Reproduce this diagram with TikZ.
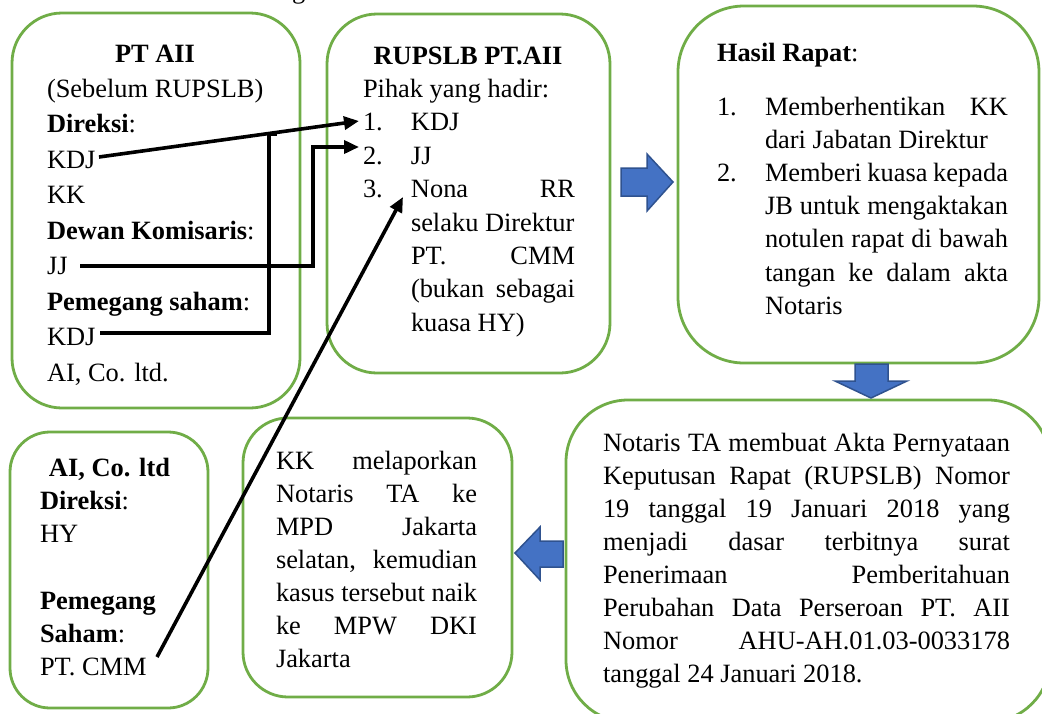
\documentclass[tikz,border=0pt]{standalone}
\usepackage{fontspec}
\setmainfont{Liberation Serif}
\usetikzlibrary{arrows.meta}
\definecolor{boxgreen}{HTML}{70AD47}
\definecolor{arrblue}{HTML}{4472C4}
\definecolor{arrdark}{HTML}{2F528F}
\newcommand{\fl}{\rule{0pt}{20pt}}
\newcommand{\jl}[2]{\makebox[#1][s]{#2}}
\newcommand{\ind}{\hspace*{48pt}}
\newcommand{\num}[1]{\makebox[48pt][l]{#1}}
\tikzset{
  box/.style={draw=boxgreen, line width=2.8pt, fill=white, inner sep=0pt, rectangle},
  txt/.style={inner sep=0pt, outer sep=0pt, align=left, anchor=north west,
    font=\fontsize{26.4}{33.3}\selectfont},
  txtwide/.style={txt, font=\fontsize{26.4}{35.45}\selectfont},
  conn/.style={line width=3.6pt, black, line join=miter},
  tipped/.style={-{Triangle[length=15pt,width=13pt]}},
  blockarrow/.style={fill=arrblue, draw=arrdark, line width=1.5pt, line join=miter},
}
\begin{document}
\begin{tikzpicture}[x=1pt,y=-1pt]
\useasboundingbox (0,0) rectangle (1042,713);
\clip (0,0) rectangle (1042,713);
\fill[white] (0,0) rectangle (1042,713);

% caption fragment
\node[txt, anchor=base west] (capg) at (292,-2) {g};

% boxes
\node[box, rounded corners=50pt, minimum width=288pt, minimum height=395pt] (b1) at (156,210.5) {};
\node[box, rounded corners=50pt, minimum width=283pt, minimum height=359pt] (b2) at (468.5,193.5) {};
\node[box, rounded corners=66pt, minimum width=361pt, minimum height=357pt] (b3) at (858.5,184.5) {};
\node[box, rounded corners=62pt, minimum width=484pt, minimum height=322pt] (b4) at (808,561) {};
\node[box, rounded corners=45pt, minimum width=269pt, minimum height=279pt] (b5) at (377.5,557.5) {};
\node[box, rounded corners=40pt, minimum width=198pt, minimum height=276pt] (b6) at (109,570) {};

% texts
\node[txtwide] (t1) at (47,42) {\fl\makebox[216pt][c]{\textbf{PT AII}}\\
(Sebelum RUPSLB)\\
\textbf{Direksi}:\\
KDJ\\
KK\\
\textbf{Dewan Komisaris}:\\
JJ\\
\textbf{Pemegang saham}:\\
KDJ\\
AI, Co. ltd.};

\node[txt, font=\fontsize{26.4}{33.4}\selectfont] (t2) at (363,44) {\fl\makebox[210pt][c]{\textbf{RUPSLB PT.AII}}\\
Pihak yang hadir:\\
\num{1.}KDJ\\
\num{2.}JJ\\
\num{3.}\jl{164pt}{Nona RR}\\
\ind selaku Direktur\\
\ind\jl{164pt}{PT. CMM}\\
\ind\jl{164pt}{(bukan sebagai}\\
\ind kuasa HY)};

\node[txt, font=\fontsize{26.4}{33.2}\selectfont] (t3) at (717,41) {\fl\textbf{Hasil Rapat}:\\[20.8pt]
\num{1.}\jl{243pt}{Memberhentikan KK}\\
\ind dari Jabatan Direktur\\
\num{2.}\jl{243pt}{Memberi kuasa kepada}\\
\ind\jl{243pt}{JB untuk mengaktakan}\\
\ind\jl{243pt}{notulen rapat di bawah}\\
\ind\jl{243pt}{tangan ke dalam akta}\\
\ind Notaris};

\node[txt, font=\fontsize{26.4}{33.1}\selectfont] (t4) at (603,431) {\fl\jl{407pt}{Notaris TA membuat Akta Pernyataan}\\
\jl{407pt}{Keputusan Rapat (RUPSLB) Nomor}\\
\jl{407pt}{19 tanggal 19 Januari 2018 yang}\\
\jl{407pt}{menjadi dasar terbitnya surat}\\
\jl{407pt}{Penerimaan Pemberitahuan}\\
\jl{407pt}{Perubahan Data Perseroan PT. AII}\\
\jl{407pt}{Nomor AHU-AH.01.03-0033178}\\
tanggal 24 Januari 2018.};

\node[txt, font=\fontsize{26.4}{33.0}\selectfont] (t5) at (276,449) {\fl\jl{201pt}{KK melaporkan}\\
\jl{201pt}{Notaris TA ke}\\
\jl{201pt}{MPD Jakarta}\\
\jl{201pt}{selatan, kemudian}\\
\jl{201pt}{kasus tersebut naik}\\
\jl{201pt}{ke MPW DKI}\\
Jakarta};

\node[txt] (t6) at (40,456) {\fl\hspace*{9pt}\textbf{AI, Co. ltd}\\
\textbf{Direksi}:\\
HY\\[33.3pt]
\textbf{Pemegang}\\
\textbf{Saham}:\\
PT. CMM};

% block arrows
\draw[blockarrow] (621,168) -- (647,168) -- (647,154) -- (673,182) -- (647,211) -- (647,196) -- (621,196) -- cycle;
\draw[blockarrow] (855,364) -- (888,364) -- (888,381) -- (907,381) -- (871,398) -- (835,381) -- (855,381) -- cycle;
\draw[blockarrow] (563,541) -- (540,541) -- (540,527) -- (515,553) -- (540,580) -- (540,567) -- (563,567) -- cycle;

% connector end points
\coordinate (kdjA) at (99,157);
\coordinate (itemA) at (359,121);
\coordinate (kdjB) at (100,333);
\coordinate (joinB) at (269,134);
\coordinate (stubB) at (277,134);
\coordinate (jjC) at (80,266);
\coordinate (itemC) at (359,147);
\coordinate (cmmD) at (157,657);
\coordinate (itemD) at (403,197);

\draw[conn, tipped] (kdjA) -- (itemA);
\draw[conn] (kdjB) -| (joinB) -- (stubB);
\draw[conn, tipped] (jjC) -| (313,147) -- (itemC);
\draw[conn, tipped] (cmmD) -- (itemD);
\end{tikzpicture}
\end{document}
